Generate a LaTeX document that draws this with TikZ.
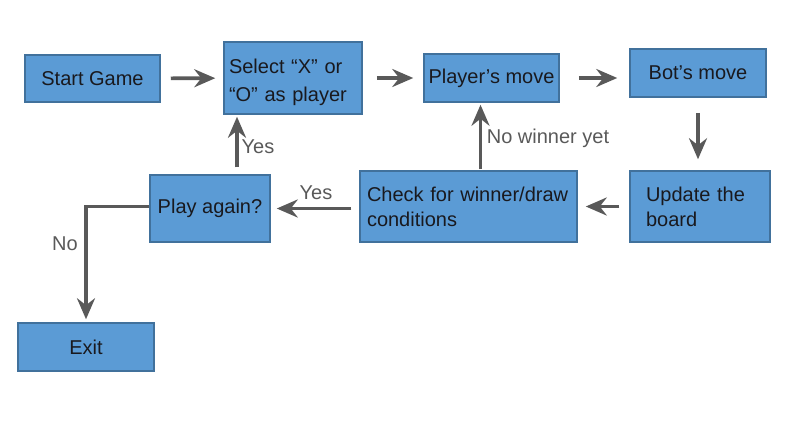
\documentclass[tikz,border=0pt]{standalone}
\usepackage{fontspec}
\setmainfont{Liberation Sans}
\usepackage{tikz}
\usetikzlibrary{arrows.meta,positioning}
\definecolor{boxfill}{RGB}{91,155,213}
\definecolor{boxline}{RGB}{65,113,156}
\definecolor{arrgray}{RGB}{89,89,89}
\definecolor{txt}{RGB}{25,25,30}
\tikzset{
  box/.style={draw=boxline, fill=boxfill, line width=1.5pt, inner xsep=0pt,
    text=txt, font=\fontsize{20}{25}\selectfont},
  arr/.style={draw=arrgray, line width=3.6pt, -{Stealth[length=21pt,width=18pt,inset=7pt]}},
  lbl/.style={text=arrgray, font=\fontsize{20}{24}\selectfont}
}
\begin{document}
\begin{tikzpicture}[x=1pt,y=-1pt]
\useasboundingbox (0,0) rectangle (810,420);
% boxes
\node[box, minimum width=135pt, minimum height=47pt] (start) at (92.5,78.5) {Start Game};
\node[box, minimum width=138pt, minimum height=72pt, text width=128pt, align=left] (select) at (293,78) {\rule{0pt}{24pt}Select “X” or\\[3pt]“O” as player};
\node[box, minimum width=135pt, minimum height=48pt] (player) at (491.5,78) {Player's move};
\node[box, minimum width=136pt, minimum height=48pt] (bot) at (698,73) {Bot's move};
\node[box, minimum width=140pt, minimum height=71pt, text width=108pt, align=left] (update) at (700,206.5) {Update the\\board};
\node[box, minimum width=217pt, minimum height=71pt, text width=203pt, align=left] (check) at (468.5,206.5) {Check for winner/draw\\conditions};
\node[box, minimum width=120pt, minimum height=67pt] (again) at (210,208.5) {Play again?};
\node[box, minimum width=136pt, minimum height=48pt] (exit) at (86,347) {Exit};
% arrows
\draw[arr, shorten <=10pt, shorten >=8pt] (start) -- (select);
\draw[arr, shorten <=14pt, shorten >=10pt] (select.east) -- (select.east -| player.west);
\draw[arr, shorten <=19pt, shorten >=12pt] (player.east) -- (player.east -| bot.west);
\draw[arr, shorten <=15pt, shorten >=11pt] (bot.south) -- (bot.south |- update.north);
\draw[arr, shorten <=10pt, shorten >=8pt] (update.west) -- (update.west -| check.east);
\draw[arr, shorten <=1pt, shorten >=2pt] ([xshift=12pt]check.north) -- ([xshift=12pt]check.north |- player.south);
\draw[arr, shorten <=8pt, shorten >=6pt] ([yshift=-2pt]check.west) -- ([yshift=-2pt]check.west -| again.east);
\draw[arr, shorten <=7pt, shorten >=2pt] ([xshift=27pt]again.north) -- ([xshift=27pt]again.north |- select.south);
\draw[arr, shorten >=3pt] ([yshift=2pt]again.west) -| (exit.north);
% labels
\node[lbl] (nowin) at (548,138) {No winner yet};
\node[lbl] (yes1) at (316,193) {Yes};
\node[lbl] (yes2) at (258,147) {Yes};
\node[lbl] (no) at (65,244) {No};
\end{tikzpicture}
\end{document}
